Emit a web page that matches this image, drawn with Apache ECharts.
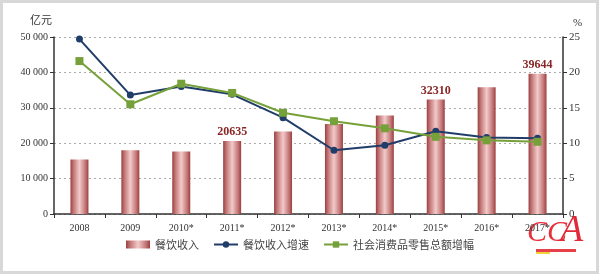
<!DOCTYPE html>
<html><head><meta charset="utf-8">
<script src="https://cdn.jsdelivr.net/npm/echarts@6/dist/echarts.min.js"></script>
<style>html,body{margin:0;padding:0;background:#fff}#c{width:600px;height:275px}</style>
</head><body><div id="c"></div>
<script>
const categories = ['2008','2009','2010*','2011*','2012*','2013*','2014*','2015*','2016*','2017*'];
const revenue = [15404,17998,17636,20635,23283,25392,27860,32310,35799,39644];
const revenueGrowth = [24.7,16.8,18.0,16.9,13.6,9.0,9.7,11.7,10.8,10.7];
const retailGrowth = [21.6,15.5,18.4,17.1,14.3,13.1,12.1,10.9,10.4,10.2];
const labeledYears = ['2011*','2015*','2017*'];
const leftTicks = [0,10000,20000,30000,40000,50000];
const rightTicks = [0,5,10,15,20,25];

const serif = '"Liberation Serif","DejaVu Serif",serif';
const cjk = '"Noto Sans CJK SC","Noto Sans",sans-serif';
const chart = echarts.init(document.getElementById('c'));
const barGrad = new echarts.graphic.LinearGradient(0,0,1,0,[
  {offset:0,color:'#9a3f3f'},{offset:0.18,color:'#c47878'},
  {offset:0.5,color:'#f3caca'},{offset:0.82,color:'#c47878'},{offset:1,color:'#9a3f3f'}]);
chart.setOption({
  animation:false,
  backgroundColor:'#fff',
  graphic:[
    {type:'rect',shape:{x:1.5,y:1.5,width:596,height:271},style:{fill:'none',stroke:'#d8d8d8',lineWidth:3},silent:true},
    {type:'text',left:30,top:14,style:{text:'亿元',font:'11px '+cjk,fill:'#333'}},
    {type:'text',left:573,top:18,style:{text:'%',font:'11px '+serif,fill:'#333'}},
    {type:'rect',shape:{x:536,y:249,width:40,height:3},style:{fill:'#e8404a'}},
    {type:'rect',shape:{x:536,y:252,width:14,height:2},style:{fill:'#f2d23a'}},
    {type:'text',left:527,top:218,style:{text:'CC',font:'italic 30px '+serif,fill:'#e8303c'}},
    {type:'text',left:560,top:212,style:{text:'A',font:'italic 38px '+serif,fill:'#e02a3a'}}
  ],
  grid:{left:54,right:37,top:37,bottom:61},
  legend:{
    bottom:20,left:'center',itemGap:14,itemWidth:24,itemHeight:8,
    textStyle:{fontFamily:cjk,fontSize:11,color:'#444'},
    data:[{name:'餐饮收入',icon:'rect'},{name:'餐饮收入增速'},{name:'社会消费品零售总额增幅'}]
  },
  xAxis:{
    type:'category',data:categories,
    axisLine:{lineStyle:{color:'#333',width:1.5}},
    axisTick:{show:true,length:4,lineStyle:{color:'#333'}},
    axisLabel:{fontFamily:serif,fontSize:10,color:'#333',margin:9}
  },
  yAxis:[
    {type:'value',min:0,max:50000,interval:10000,
     axisLine:{show:true,lineStyle:{color:'#333',width:1.5}},
     axisTick:{show:true,length:4,lineStyle:{color:'#333'}},
     splitLine:{lineStyle:{color:'#aaa',type:[2,3]}},
     axisLabel:{fontFamily:serif,fontSize:10,color:'#333',margin:6,
       formatter:v=>v===0?'0':String(v).replace(/(\d)(\d{3})$/,'$1 $2')}},
    {type:'value',min:0,max:25,interval:5,position:'right',
     axisLine:{show:true,lineStyle:{color:'#333',width:1.5}},
     axisTick:{show:true,length:4,lineStyle:{color:'#333'}},
     splitLine:{show:false},
     axisLabel:{fontFamily:serif,fontSize:11,color:'#333',margin:6}}
  ],
  series:[
    {name:'餐饮收入',type:'bar',barWidth:18,yAxisIndex:0,
     itemStyle:{color:barGrad},
     data:revenue.map((v,i)=>({value:v,label:{show:labeledYears.includes(categories[i])}})),
     label:{position:'top',distance:3,fontFamily:serif,fontWeight:'bold',fontSize:12,color:'#8a2626'}},
    {name:'餐饮收入增速',type:'line',yAxisIndex:1,data:revenueGrowth,
     symbol:'circle',symbolSize:7,lineStyle:{color:'#203d6a',width:2},itemStyle:{color:'#203d6a'}},
    {name:'社会消费品零售总额增幅',type:'line',yAxisIndex:1,data:retailGrowth,
     symbol:'rect',symbolSize:8,lineStyle:{color:'#76a13a',width:2},itemStyle:{color:'#76a13a'}}
  ]
});
</script></body></html>
